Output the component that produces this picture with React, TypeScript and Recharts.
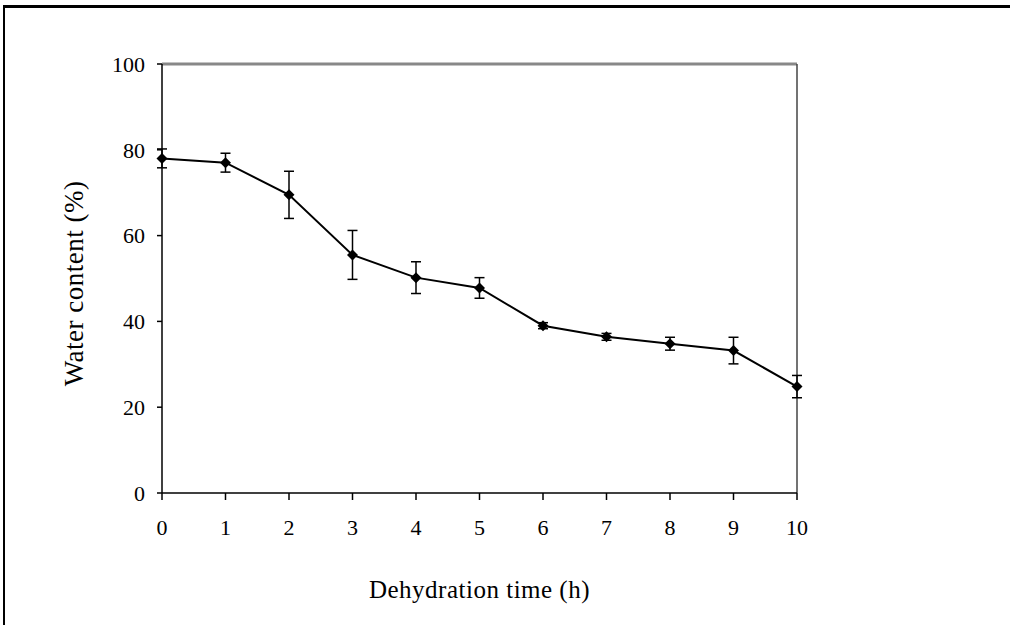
import React from 'react';
import {
  LineChart,
  Line,
  XAxis,
  YAxis,
  ErrorBar,
  ReferenceLine,
} from 'recharts';

// values
const hours = [0, 1, 2, 3, 4, 5, 6, 7, 8, 9, 10];
const waterContent = [78, 77, 69.5, 55.5, 50.2, 47.8, 39, 36.4, 34.8, 33.2, 24.8];
const waterErr = [2.2, 2.2, 5.5, 5.7, 3.7, 2.4, 0.7, 0.8, 1.5, 3.1, 2.6];
const xTicks = [0, 1, 2, 3, 4, 5, 6, 7, 8, 9, 10];
const yTicks = [0, 20, 40, 60, 80, 100];

const data = hours.map((h, i) => ({
  hour: h,
  water: waterContent[i],
  err: waterErr[i],
}));

const font = '"Liberation Serif", "Times New Roman", serif';

// black diamond marker
const Diamond = (props: any) => {
  const { cx, cy } = props;
  if (cx == null || cy == null) return null;
  const r = 5.5;
  return (
    <polygon
      points={`${cx},${cy - r} ${cx + r},${cy} ${cx},${cy + r} ${cx - r},${cy}`}
      fill="#000"
    />
  );
};

const App = () => {
  return (
    <div
      style={{
        position: 'absolute',
        left: 0,
        top: 0,
        width: 1010,
        height: 625,
        background: '#fff',
        fontFamily: font,
      }}
    >
      {/* the frame round the figure: only top and left edges show */}
      <div
        style={{
          position: 'absolute',
          left: 3,
          top: 5,
          width: 1007,
          height: 620,
          borderTop: '3px solid #000',
          borderLeft: '2px solid #000',
        }}
      />
      <div style={{ position: 'absolute', left: 0, top: 0 }}>
        <LineChart
          width={1010}
          height={625}
          data={data}
          margin={{ top: 64, right: 213, bottom: 72, left: 67 }}
        >
          <XAxis
            dataKey="hour"
            type="number"
            domain={[0, 10]}
            ticks={xTicks}
            height={60}
            tickSize={7}
            tickMargin={19}
            tick={{ fill: '#000', fontSize: 22, fontFamily: font }}
            tickLine={{ stroke: '#000', strokeWidth: 1.5 }}
            axisLine={{ stroke: '#000', strokeWidth: 1.5 }}
            label={{
              value: 'Dehydration time (h)',
              position: 'bottom',
              offset: 27,
              style: { fill: '#000', fontSize: 25, fontFamily: font, letterSpacing: 0.5 },
            }}
          />
          <YAxis
            domain={[0, 100]}
            ticks={yTicks}
            width={95}
            tickSize={5}
            tickMargin={12}
            tick={{ fill: '#000', fontSize: 22, fontFamily: font }}
            tickLine={{ stroke: '#000', strokeWidth: 1.5 }}
            axisLine={{ stroke: '#000', strokeWidth: 1.5 }}
            label={{
              value: 'Water content (%)',
              angle: -90,
              position: 'insideLeft',
              offset: 6,
              dy: 5,
              style: {
                fill: '#000',
                fontSize: 27,
                fontFamily: font,
                letterSpacing: 0.5,
                textAnchor: 'middle',
              },
            }}
          />
          <ReferenceLine y={100} stroke="#888" strokeWidth={3} />
          <ReferenceLine x={10} stroke="#444" strokeWidth={1.5} />
          <Line
            type="linear"
            dataKey="water"
            stroke="#000"
            strokeWidth={2}
            dot={<Diamond />}
            activeDot={false}
            isAnimationActive={false}
          >
            <ErrorBar dataKey="err" width={5} stroke="#000" strokeWidth={1.5} direction="y" />
          </Line>
        </LineChart>
      </div>
    </div>
  );
};

export default App;
